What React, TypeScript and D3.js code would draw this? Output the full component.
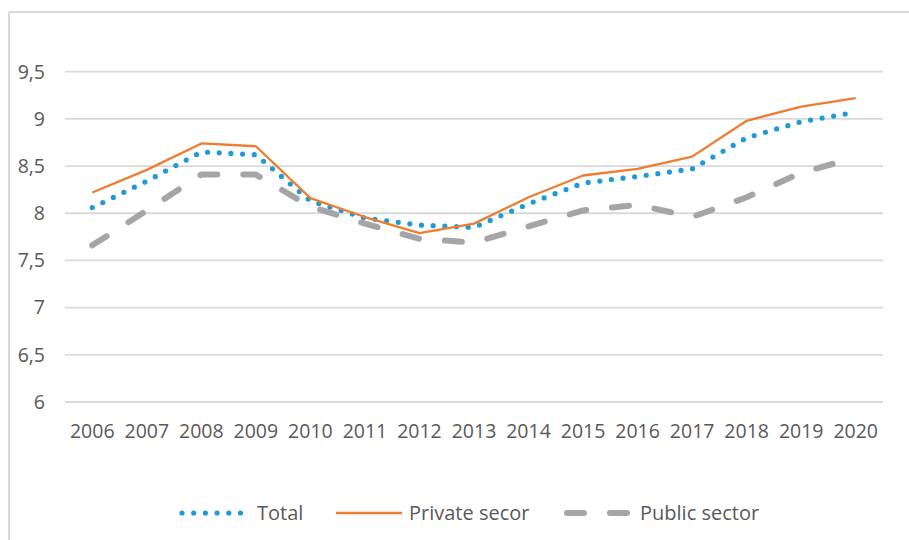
import React from "react";
import * as d3 from "d3";

const years = ["2006","2007","2008","2009","2010","2011","2012","2013","2014","2015","2016","2017","2018","2019","2020"];
const totalValues = [8.06, 8.34, 8.65, 8.62, 8.13, 7.95, 7.875, 7.85, 8.1, 8.32, 8.39, 8.47, 8.80, 8.97, 9.07];
const privateValues = [8.22, 8.46, 8.74, 8.71, 8.16, 7.96, 7.79, 7.89, 8.17, 8.40, 8.47, 8.60, 8.98, 9.13, 9.22];
const publicValues = [7.66, 8.03, 8.41, 8.41, 8.07, 7.89, 7.73, 7.69, 7.86, 8.03, 8.09, 7.96, 8.17, 8.43, 8.59];
const yTicks = [6, 6.5, 7, 7.5, 8, 8.5, 9, 9.5];
const seriesNames = ["Total", "Private secor", "Public sector"];

const W = 909, H = 540;
const FONT = "'Open Sans', 'Noto Sans', sans-serif";
const TEXT = "#595959";

export default function App() {
  const x = d3.scaleBand<string>().domain(years).range([65, 883]);
  const y = d3.scaleLinear().domain([6, 9.5]).range([402, 71.7]);
  const cx = (d: string) => (x(d) as number) + x.bandwidth() / 2;
  const line = d3.line<number>().x((_, i) => cx(years[i])).y((v) => y(v));
  const fmt = (v: number) => String(v).replace(".", ",");

  const styles = [
    { stroke: "#1e9bd7", width: 5.2, dash: "0 11.7", cap: "round" as const },
    { stroke: "#ed7d31", width: 2.3, dash: undefined, cap: "butt" as const },
    { stroke: "#a5a5a5", width: 6, dash: "17 26", cap: "round" as const },
  ];
  const data = [totalValues, privateValues, publicValues];

  const legend = [
    { x1: 182, x2: 250, tx: 257 },
    { x1: 336, x2: 402, tx: 409 },
    { x1: 567, x2: 633, tx: 640 },
  ];

  return (
    <svg width={W} height={H} style={{ position: "absolute", left: 0, top: 0, background: "#fff" }}>
      <rect x={0} y={0} width={W} height={H} fill="#fff" />
      <line x1={9} y1={12} x2={W} y2={12} stroke="#d9d9d9" strokeWidth={2} />
      <line x1={9} y1={12} x2={9} y2={H} stroke="#d9d9d9" strokeWidth={2} />
      {yTicks.map((t) => (
        <g key={t}>
          <line x1={65} x2={883} y1={y(t)} y2={y(t)} stroke="#d9d9d9" strokeWidth={1.8} />
          <text x={45} y={y(t)} dy="0.35em" textAnchor="end" fontFamily={FONT} fontSize={19.5} fill={TEXT}>
            {fmt(t)}
          </text>
        </g>
      ))}
      {years.map((yr) => (
        <text key={yr} x={cx(yr)} y={438} textAnchor="middle" fontFamily={FONT} fontSize={19.5} fill={TEXT}>
          {yr}
        </text>
      ))}
      {data.map((vals, i) => (
        <path
          key={i}
          d={line(vals) || ""}
          fill="none"
          stroke={styles[i].stroke}
          strokeWidth={styles[i].width}
          strokeDasharray={styles[i].dash}
          strokeLinecap={styles[i].cap}
          strokeLinejoin="round"
        />
      ))}
      {seriesNames.map((name, i) => (
        <g key={name}>
          <line
            x1={legend[i].x1}
            x2={legend[i].x2}
            y1={513}
            y2={513}
            stroke={styles[i].stroke}
            strokeWidth={styles[i].width}
            strokeDasharray={styles[i].dash}
            strokeLinecap={styles[i].cap}
          />
          <text x={legend[i].tx} y={513} dy="0.35em" fontFamily={FONT} fontSize={20} fill={TEXT}>
            {name}
          </text>
        </g>
      ))}
    </svg>
  );
}
